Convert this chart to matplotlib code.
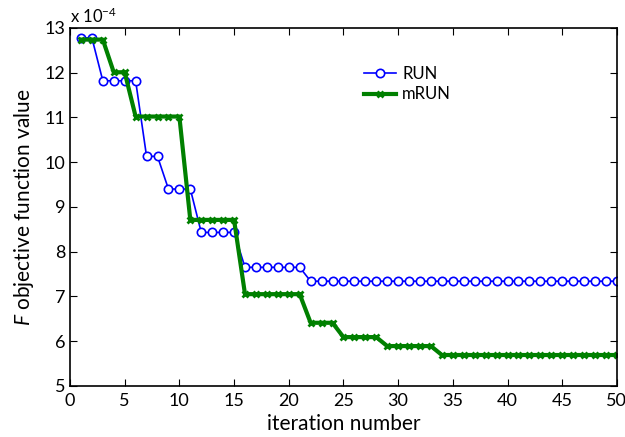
import matplotlib
matplotlib.use("Agg")
import matplotlib.pyplot as plt
import numpy as np

plt.rcParams['font.family'] = ['Lato', 'DejaVu Sans']
plt.rcParams['mathtext.fontset'] = 'custom'
plt.rcParams['mathtext.it'] = 'Lato:italic'
plt.rcParams['mathtext.rm'] = 'Lato'

iterations = list(range(1, 51))
run_vals = ([12.78] * 2 + [11.82] * 4 + [10.13] * 2 + [9.40] * 3 + [8.43] * 4
            + [7.65] * 6 + [7.34] * 29)
mrun_vals = ([12.74] * 3 + [12.01] * 2 + [11.02] * 5 + [8.71] * 5 + [7.05] * 6
             + [6.41] * 3 + [6.09] * 4 + [5.89] * 5 + [5.69] * 17)
x_ticks = list(range(0, 51, 5))
y_ticks = list(range(5, 14))

fig = plt.figure(figsize=(6.25, 4.37), dpi=100)
ax = fig.add_axes([0.112, 0.117, 0.875, 0.819])

ax.plot(iterations, run_vals, color='#0000ff', lw=1.2, marker='o', ms=6,
        mfc='white', mec='#0000ff', mew=1.2, label='RUN')
ax.plot(iterations, mrun_vals, color='#008000', lw=3, marker='x', ms=4,
        mew=2, mec='#008000', label='mRUN')

ax.set_xlim(0, 50)
ax.set_ylim(5, 13)
ax.set_xticks(x_ticks)
ax.set_yticks(y_ticks)
ax.tick_params(direction='in', top=True, right=True, labelsize=13, length=5)
ax.tick_params(axis='x', pad=5)
for s in ax.spines.values():
    s.set_linewidth(1.2)

ax.set_xlabel('iteration number', fontsize=15, labelpad=4)
ax.set_ylabel(r'$F$ objective function value', fontsize=15, labelpad=6)
ax.text(0.0, 1.005, r'x 10$^{-4}$', transform=ax.transAxes, fontsize=12,
        ha='left', va='bottom')

ax.legend(loc='upper left', bbox_to_anchor=(0.51, 0.935), frameon=False,
          fontsize=12, handlelength=1.9, handletextpad=0.4, labelspacing=0.25)

fig.savefig('out.png', dpi=100)
